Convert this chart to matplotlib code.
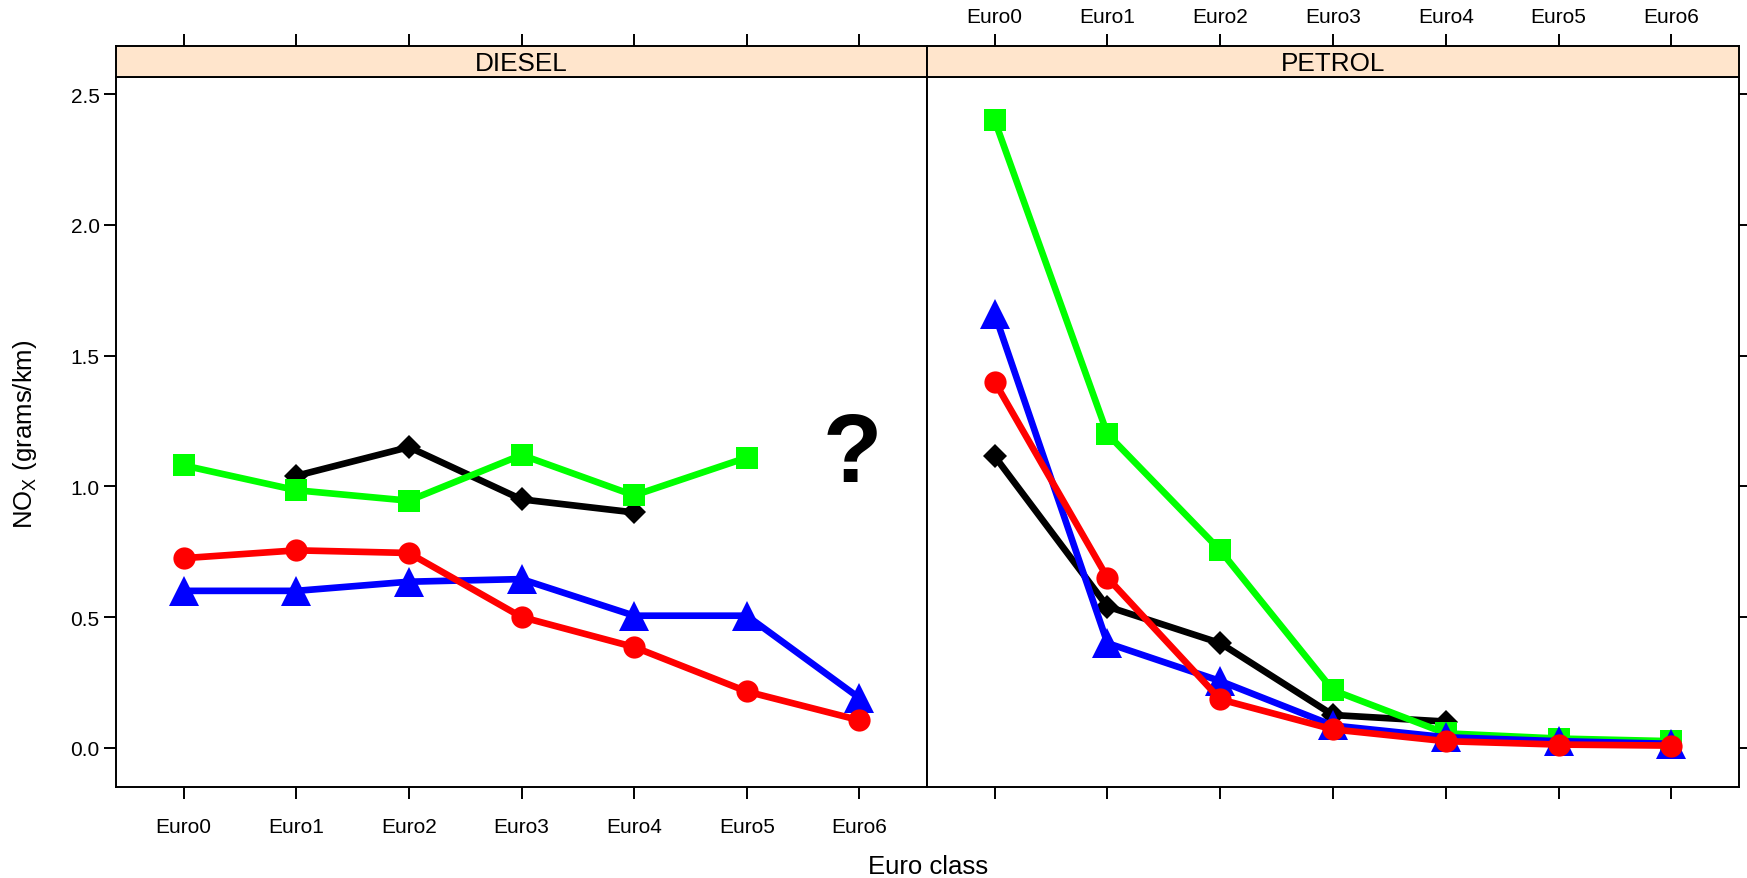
import numpy as np
import matplotlib
matplotlib.use("Agg")
from matplotlib import pyplot as plt

plt.rcParams["font.family"] = ["Liberation Sans", "DejaVu Sans"]
plt.rcParams["mathtext.fontset"] = "custom"
plt.rcParams["mathtext.rm"] = "Liberation Sans"

nan = np.nan
euro = ["Euro0", "Euro1", "Euro2", "Euro3", "Euro4", "Euro5", "Euro6"]
panels = ["DIESEL", "PETROL"]

# NOx (g/km) per euro class, one list per group and fuel
diesel_black = [nan, 1.04, 1.15, 0.95, 0.90, nan, nan]
diesel_green = [1.08, 0.985, 0.945, 1.12, 0.965, 1.11, nan]
diesel_blue = [0.60, 0.60, 0.635, 0.645, 0.505, 0.505, 0.19]
diesel_red = [0.725, 0.755, 0.745, 0.50, 0.385, 0.215, 0.105]

petrol_black = [1.115, 0.54, 0.40, 0.125, 0.10, nan, nan]
petrol_green = [2.40, 1.20, 0.755, 0.22, 0.055, 0.035, 0.025]
petrol_blue = [1.66, 0.40, 0.255, 0.085, 0.04, 0.025, 0.015]
petrol_red = [1.40, 0.65, 0.185, 0.07, 0.025, 0.012, 0.008]

data = {
    "DIESEL": [diesel_black, diesel_green, diesel_blue, diesel_red],
    "PETROL": [petrol_black, petrol_green, petrol_blue, petrol_red],
}
styles = [
    dict(color="black", marker="D", markersize=12),
    dict(color="#00FF00", marker="s", markersize=16),
    dict(color="#0000FF", marker="^", markersize=21),
    dict(color="#FF0000", marker="o", markersize=16),
]

W, H = 1747, 879
fig = plt.figure(figsize=(W / 100, H / 100), dpi=100)

x = np.arange(len(euro))
lw_frame = 1.4
ticklen = 8.3
for i, name in enumerate(panels):
    left = 116 if i == 0 else 927
    right = 927 if i == 0 else 1739
    ax = fig.add_axes([left / W, (H - 788.3) / H, (right - left) / W, (788.3 - 77.7) / H])
    strip = fig.add_axes([left / W, (H - 77.7) / H, (right - left) / W, 31 / H], sharex=ax)

    for vals, st in zip(data[name], styles):
        ax.plot(x, vals, lw=4.8, markeredgewidth=0, **st)

    ax.set_xlim(-0.6, 6.6)
    ax.set_ylim(-0.1515, 2.567)
    ax.set_yticks([0.0, 0.5, 1.0, 1.5, 2.0, 2.5])
    ax.set_xticks(x)
    for sp in ax.spines.values():
        sp.set_linewidth(lw_frame)

    if i == 0:
        ax.set_xticklabels(euro)
        ax.tick_params(axis="x", bottom=True, labelbottom=True, pad=13)
        ax.tick_params(axis="y", left=True, labelleft=True, right=False)
        ax.set_yticklabels(["0.0", "0.5", "1.0", "1.5", "2.0", "2.5"])
        ax.text(5.94, 1.116, "?", ha="center", va="center",
                fontsize=70, fontweight="bold")
    else:
        ax.tick_params(axis="x", bottom=True, labelbottom=False)
        ax.tick_params(axis="y", left=False, labelleft=False,
                       right=True, labelright=False)
    ax.tick_params(direction="out", length=ticklen, width=lw_frame,
                   labelsize=15, color="black")

    strip.set_facecolor("#FFE5CC")
    strip.set_yticks([])
    for sp in strip.spines.values():
        sp.set_linewidth(lw_frame)
    strip.tick_params(axis="x", bottom=False, labelbottom=False, top=True,
                      labeltop=(i == 1), direction="out", length=ticklen,
                      width=lw_frame, labelsize=15, pad=6)
    if i == 1:
        strip.set_xticks(x)
        strip.set_xticklabels(euro)
    strip.text(0.5, 0.45, name, transform=strip.transAxes, ha="center",
               va="center", fontsize=18.8)

fig.text(25 / W, 1 - 434 / H, r"NO$_{\mathrm{X}}$ (grams/km)", rotation=90,
         ha="center", va="center", fontsize=18.5)
fig.text(928 / W, 1 - 867 / H, "Euro class", ha="center", va="center",
         fontsize=18.5)

fig.savefig("out.png", dpi=100)
